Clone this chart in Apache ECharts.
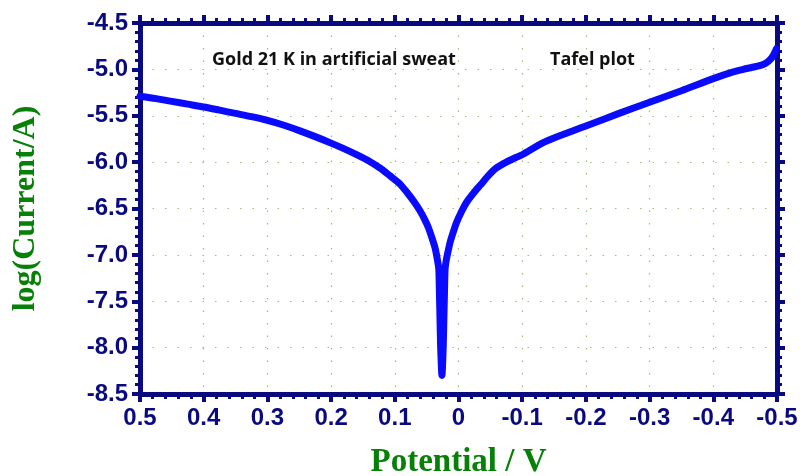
<!DOCTYPE html>
<html>
<head>
<meta charset="utf-8">
<script src="https://cdn.jsdelivr.net/npm/echarts@6/dist/echarts.min.js"></script>
<style>html,body{margin:0;padding:0;background:#fff}#c{width:800px;height:476px}</style>
</head>
<body>
<div id="c"></div>
<script>
// Potential (V) and log(Current/A)
var potential = [0.500,0.475,0.450,0.425,0.400,0.375,0.350,0.325,0.300,0.275,0.250,0.225,0.200,0.180,0.160,0.140,0.123,0.108,0.092,0.081,0.070,0.060,0.053,0.047,0.042,0.037,0.034,0.031,0.030,0.029,0.028,0.026,0.024,0.023,0.022,0.021,0.019,0.016,0.013,0.008,0.003,-0.005,-0.013,-0.024,-0.034,-0.049,-0.060,-0.075,-0.090,-0.100,-0.133,-0.165,-0.200,-0.250,-0.300,-0.350,-0.400,-0.430,-0.447,-0.460,-0.473,-0.483,-0.490,-0.495,-0.499];
var logCurrent = [-5.29,-5.315,-5.345,-5.375,-5.405,-5.44,-5.475,-5.51,-5.55,-5.60,-5.66,-5.725,-5.795,-5.855,-5.92,-5.99,-6.065,-6.145,-6.235,-6.325,-6.425,-6.53,-6.62,-6.71,-6.81,-6.92,-7.02,-7.15,-7.40,-7.70,-8.00,-8.30,-8.00,-7.70,-7.40,-7.15,-7.05,-6.95,-6.86,-6.75,-6.65,-6.53,-6.43,-6.33,-6.25,-6.13,-6.06,-6.00,-5.95,-5.92,-5.79,-5.70,-5.61,-5.48,-5.355,-5.23,-5.10,-5.03,-5.00,-4.98,-4.96,-4.93,-4.89,-4.84,-4.78];
var xTicks = {min: -0.5, max: 0.5, interval: 0.1};
var yTicks = {min: -8.5, max: -4.5, interval: 0.5};
var xTitle = 'Potential / V';
var yTitle = 'log(Current/A)';
var note1 = 'Gold 21 K in artificial sweat';
var note2 = 'Tafel plot';

var navy = '#0a0a80';
var green = '#078007';
var gridDot = '#9cbf7c';
var data = potential.map(function (p, i) { return [p, logCurrent[i]]; });

function axisBase(extra) {
  var a = {
    axisLine: {show: true, onZero: false, lineStyle: {color: navy, width: 5}},
    axisTick: {show: true, inside: false, length: 8, lineStyle: {color: navy, width: 4}},
    minorTick: {show: true, splitNumber: 5, length: 5, lineStyle: {color: navy, width: 3}},
    splitLine: {show: false},
    axisLabel: {show: false}
  };
  for (var k in extra) a[k] = extra[k];
  return a;
}

var chart = echarts.init(document.getElementById('c'));
chart.setOption({
  animation: false,
  backgroundColor: '#fff',
  grid: {left: 140, right: 23, top: 23, bottom: 82, containLabel: false, outerBoundsMode: 'none'},
  xAxis: [
    axisBase({
      type: 'value', position: 'bottom', inverse: true,
      min: xTicks.min, max: xTicks.max, interval: xTicks.interval,
      name: xTitle, nameLocation: 'middle', nameGap: 52,
      nameTextStyle: {color: green, fontFamily: 'Liberation Serif', fontWeight: 'bold', fontSize: 33},
      axisLabel: {show: true, color: navy, fontFamily: 'Liberation Sans', fontWeight: 'bold', fontSize: 24, margin: 12,
        showMinLabel: true, showMaxLabel: true,
        formatter: function (v) { var r = Math.round(v * 10) / 10; return r === 0 ? '0' : r.toFixed(1); }},
      splitLine: {show: true, lineStyle: {color: gridDot, width: 1.2, type: [1.5, 11]}}
    }),
    axisBase({
      type: 'value', position: 'top', inverse: true,
      min: xTicks.min, max: xTicks.max, interval: xTicks.interval
    })
  ],
  yAxis: [
    axisBase({
      type: 'value', position: 'left',
      min: yTicks.min, max: yTicks.max, interval: yTicks.interval,
      name: yTitle, nameLocation: 'middle', nameGap: 98, nameRotate: 90,
      nameTextStyle: {color: green, fontFamily: 'Liberation Serif', fontWeight: 'bold', fontSize: 32},
      axisLabel: {show: true, color: navy, fontFamily: 'Liberation Sans', fontWeight: 'bold', fontSize: 24, margin: 12,
        showMinLabel: true, showMaxLabel: true,
        formatter: function (v) { return (Math.round(v * 10) / 10).toFixed(1); }},
      splitLine: {show: true, lineStyle: {color: gridDot, width: 1.2, type: [1.5, 11]}}
    }),
    axisBase({
      type: 'value', position: 'right',
      min: yTicks.min, max: yTicks.max, interval: yTicks.interval
    })
  ],
  graphic: [
    {type: 'text', left: 212, top: 51, z: 10,
      style: {text: note1, fill: '#111', font: 'bold 18px "Open Sans"'}},
    {type: 'text', left: 550, top: 51, z: 10,
      style: {text: note2, fill: '#111', font: 'bold 18px "Open Sans"'}}
  ],
  series: [{
    type: 'line',
    xAxisIndex: 0, yAxisIndex: 0,
    data: data,
    showSymbol: false,
    smooth: 0.25,
    clip: false,
    lineStyle: {color: '#0a0aff', width: 7, cap: 'round', join: 'round'},
    z: 5
  }]
});
</script>
</body>
</html>
